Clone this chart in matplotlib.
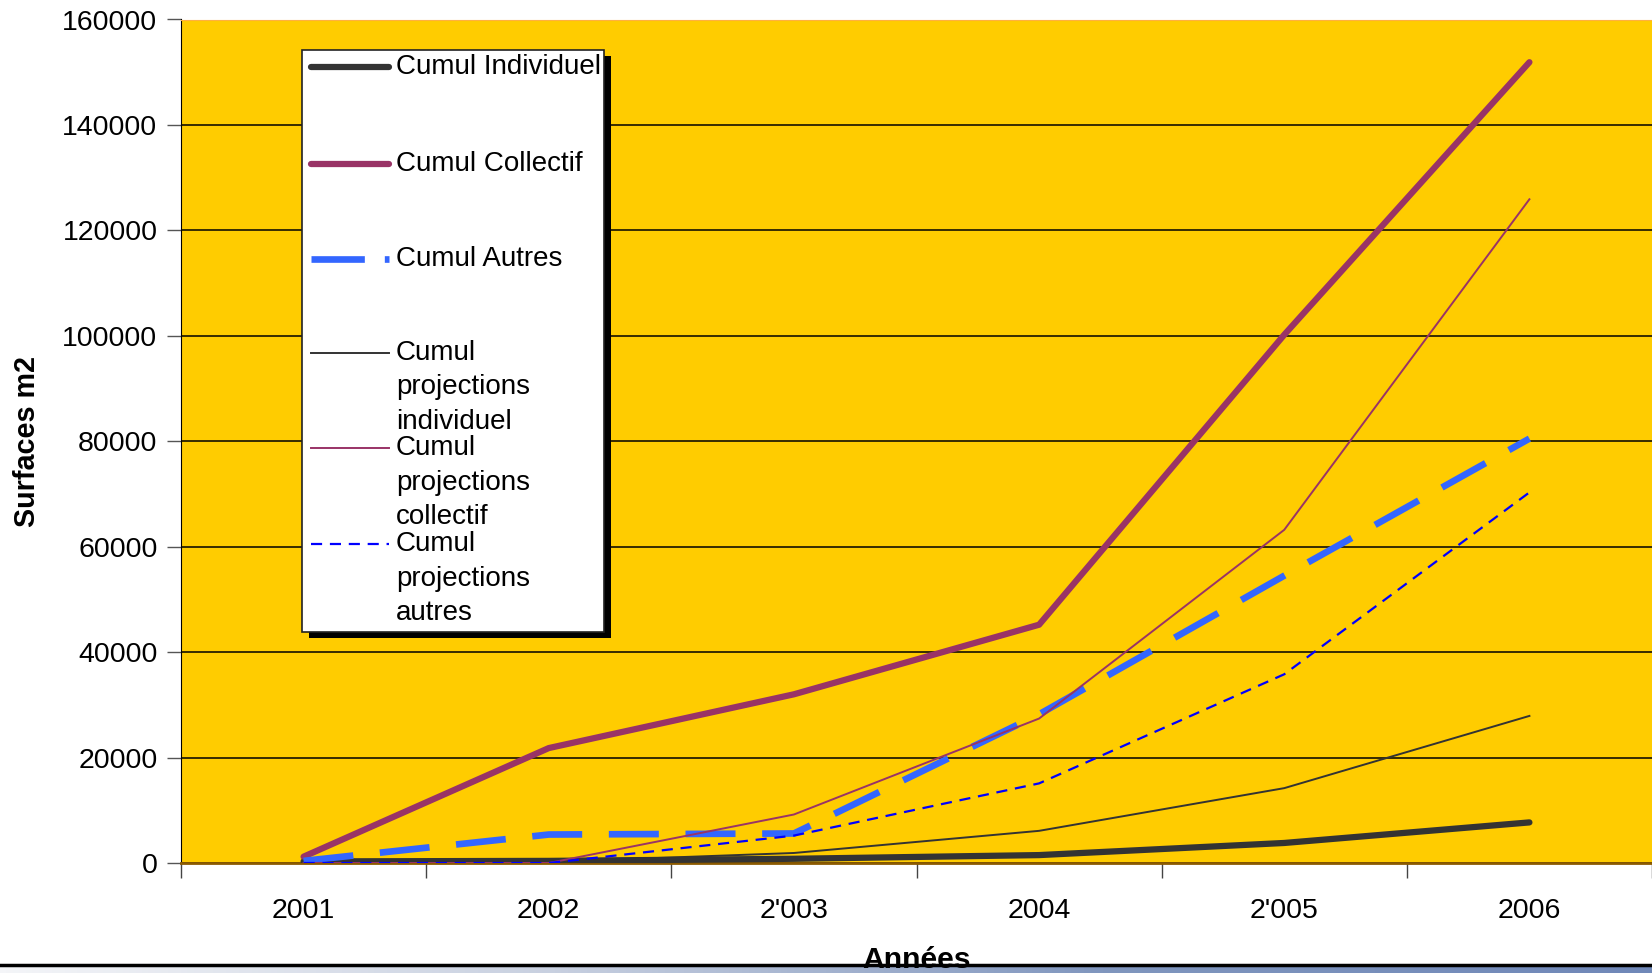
import numpy as np
import matplotlib
matplotlib.use('Agg')
import matplotlib.pyplot as plt
from matplotlib.patches import Rectangle
from matplotlib.lines import Line2D
from matplotlib.colors import LinearSegmentedColormap

plt.rcParams['font.family'] = ['Liberation Sans', 'DejaVu Sans']

# Cumulated surfaces (m2) per year
annees = ['2001', '2002', "2'003", '2004', "2'005", '2006']
cumul_individuel = [300, 400, 800, 1500, 3800, 7700]
cumul_collectif = [1200, 21800, 32000, 45200, 100200, 151900]
cumul_autres = [400, 5400, 5600, 28200, 54500, 80500]
proj_individuel = [0, 200, 1900, 6100, 14200, 27900]
proj_collectif = [0, 0, 9200, 27400, 63200, 125900]
proj_autres = [0, 0, 5200, 15100, 35800, 70300]

W, H = 1652, 973
fig = plt.figure(figsize=(W / 100, H / 100), dpi=100)

def fx(x):
    return x / W

def fy(y):
    return 1 - y / H

ax = fig.add_axes([fx(181), fy(863), fx(1652) - fx(181), fy(19.5) - fy(863)])
ax.set_facecolor('#FFCC00')

x = np.arange(len(annees))
series = [
    (cumul_individuel, 'Cumul Individuel', dict(color='#333333', lw=4.5, solid_capstyle='round')),
    (cumul_collectif, 'Cumul Collectif', dict(color='#993366', lw=4.5, solid_capstyle='round')),
    (cumul_autres, 'Cumul Autres', dict(color='#3366FF', lw=4.8, dashes=(7.5, 4.0), dash_capstyle='butt')),
    (proj_individuel, 'Cumul\nprojections\nindividuel', dict(color='#333333', lw=1.4)),
    (proj_collectif, 'Cumul\nprojections\ncollectif', dict(color='#993366', lw=1.4)),
    (proj_autres, 'Cumul\nprojections\nautres', dict(color='#0000FF', lw=1.6, dashes=(5, 3.5))),
]
for vals, label, kw in series:
    ax.plot(x, vals, zorder=3, **kw)

ax.set_xlim(-0.5, 5.5)
ax.set_ylim(0, 160000)
ax.set_yticks(np.arange(0, 160001, 20000))
ax.yaxis.grid(True, color='black', lw=1.1)
ax.set_axisbelow(True)
ax.set_xticks(x)
ax.set_xticklabels(annees)
ax.set_xticks(np.arange(-0.5, 6, 1), minor=True)
ax.tick_params(axis='x', which='major', length=0, pad=25, labelsize=20.5)
ax.tick_params(axis='x', which='minor', length=11, width=1, color='#444444', direction='out')
ax.tick_params(axis='y', length=10, width=1, color='#555555', pad=7, labelsize=20.5)

ax.spines['right'].set_visible(False)
ax.spines['top'].set_color('#FFB040')
ax.spines['left'].set_color('black')
ax.spines['bottom'].set_color('#8B5A00')
ax.spines['bottom'].set_linewidth(2)

fig.text(fx(27), fy(441), 'Surfaces m2', rotation=90, ha='center', va='center',
         fontsize=20.7, fontweight='bold')

# legend box with drop shadow
fig.patches.append(Rectangle((fx(309), fy(638)), fx(604) - fx(302), fy(50) - fy(632),
                             transform=fig.transFigure, facecolor='black', edgecolor='none', zorder=4))
fig.patches.append(Rectangle((fx(302), fy(632)), fx(604) - fx(302), fy(50) - fy(632),
                             transform=fig.transFigure, facecolor='white', edgecolor='#222222',
                             lw=1.2, zorder=5))
entry_y = [67, 164, 259, 353, 448, 544]
for (vals, label, kw), ly in zip(series, entry_y):
    kw_leg = dict(kw)
    if label == 'Cumul Autres':
        kw_leg['dashes'] = (8.0, 3.0)
    fig.lines.append(Line2D([fx(311), fx(389)], [fy(ly), fy(ly)], transform=fig.transFigure,
                            zorder=6, **kw_leg))
    for k, part in enumerate(label.split('\n')):
        fig.text(fx(396), fy(ly + k * 34.5), part, ha='left', va='center', fontsize=20, zorder=7)

# bottom band
fig.lines.append(Line2D([0, 1], [fy(965), fy(965)], transform=fig.transFigure, color='black', lw=2.5, zorder=2))
band = fig.add_axes([0, 0, 1, fy(966.5)], zorder=1)
grad = np.linspace(0, 1, 512)[None, :]
cmap = LinearSegmentedColormap.from_list('band', ['#F4F5F8', '#C8D0E0', '#8096BE', '#7088B8'])
band.imshow(grad, aspect='auto', cmap=cmap, extent=[0, 1, 0, 1])
band.axis('off')

fig.text(fx(917), fy(960), 'Années', ha='center', va='center', fontsize=21.7,
         fontweight='bold', zorder=10)

fig.savefig('out.png', dpi=100)
